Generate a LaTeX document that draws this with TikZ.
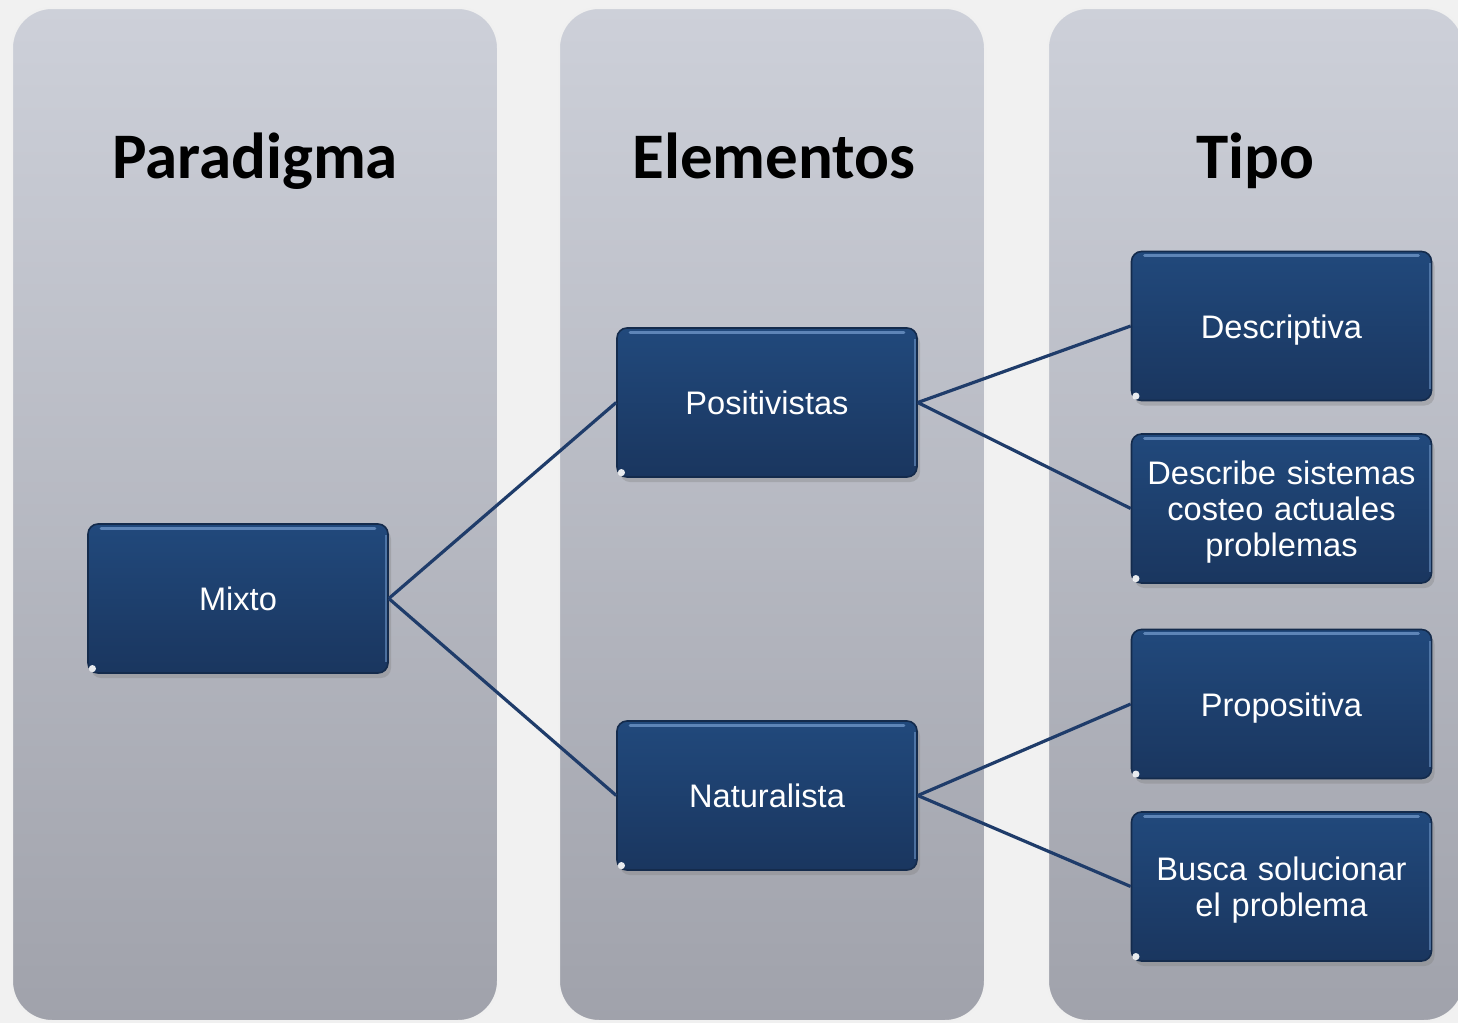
\documentclass[tikz,border=0pt]{standalone}
\usepackage{fontspec}
\setmainfont{Liberation Sans}
\newfontfamily\headfont{Carlito}
\usetikzlibrary{shadows}
\definecolor{bgc}{HTML}{F1F1F1}
\definecolor{coltop}{HTML}{CDD0D9}
\definecolor{colbot}{HTML}{A0A2AB}
\definecolor{boxtop}{HTML}{21497C}
\definecolor{boxbot}{HTML}{1A365F}
\definecolor{boxdraw}{HTML}{142B4C}
\definecolor{linkc}{HTML}{1F3C6A}
\definecolor{hlc}{HTML}{6E95C6}
\begin{document}
\begin{tikzpicture}[x=0.5pt,y=-0.5pt,
  col/.style={rounded corners=20pt, top color=coltop, bottom color=colbot,
    draw=white!88!gray, line width=1pt, inner sep=0pt},
  head/.style={font=\headfont\bfseries\fontsize{32.5}{38}\selectfont, anchor=base, text=black},
  box/.style={rounded corners=5pt, draw=boxdraw, line width=0.8pt,
    top color=boxtop, bottom color=boxbot, minimum width=150pt, minimum height=74.5pt,
    text width=142pt, align=center, text=white, inner sep=0pt,
    font=\fontsize{16.3}{18}\selectfont,
    drop shadow={opacity=0.35, shadow xshift=1.5pt, shadow yshift=-2.5pt}},
  single/.style={text height=15pt, text depth=3pt},
  multi/.style={text height=15.5pt},
  link/.style={draw=linkc, line width=1.6pt},
  hl/.style={draw=hlc, line width=1.5pt, line cap=round, opacity=0.8}]
\useasboundingbox (0,0) rectangle (1458,1023);
\fill[bgc] (0,0) rectangle (1458,1023);
\clip (0,0) rectangle (1458,1023);
% columns
\node[col, minimum width=243pt, minimum height=506.5pt] (c1) at (255,514.5) {};
\node[col, minimum width=213pt, minimum height=506.5pt] (c2) at (772,514.5) {};
\node[col, minimum width=208pt, minimum height=506.5pt] (c3) at (1256,514.5) {};
% headers
\node[head] (h1) at (255,178) {Paradigma};
\node[head] (h2) at (774,178) {Elementos};
\node[head] (h3) at (1255,178) {Tipo};
% boxes
\node[box, single] (mix) at (238,598.5) {Mixto};
\node[box, single] (pos) at (767,402.5) {Positivistas};
\node[box, single] (nat) at (767,795.5) {Naturalista};
\node[box, single] (des) at (1281.5,326) {Descriptiva};
\node[box, multi] (dsc) at (1281.5,508.5) {Describe sistemas\\costeo actuales\\problemas};
\node[box, single] (pro) at (1281.5,704) {Propositiva};
\node[box, multi] (bus) at (1281.5,886.5) {Busca solucionar\\el problema};
% box highlights
\foreach \b in {mix,pos,nat,des,dsc,pro,bus}{
  \draw[hl] ([xshift=7pt,yshift=-2.6pt]\b.north west) -- ([xshift=-7pt,yshift=-2.6pt]\b.north east);
  \draw[draw=hlc, line width=1pt, opacity=0.6] ([xshift=-1.2pt,yshift=-6pt]\b.north east) -- ([xshift=-1.2pt,yshift=6pt]\b.south east);
  \fill[white, opacity=0.9] ([xshift=2.6pt,yshift=2.6pt]\b.south west) circle (1.8pt);
}
% connectors
\draw[link] (mix.east) -- (pos.west);
\draw[link] (mix.east) -- (nat.west);
\draw[link] (pos.east) -- (des.west);
\draw[link] (pos.east) -- (dsc.west);
\draw[link] (nat.east) -- (pro.west);
\draw[link] (nat.east) -- (bus.west);
\end{tikzpicture}
\end{document}
